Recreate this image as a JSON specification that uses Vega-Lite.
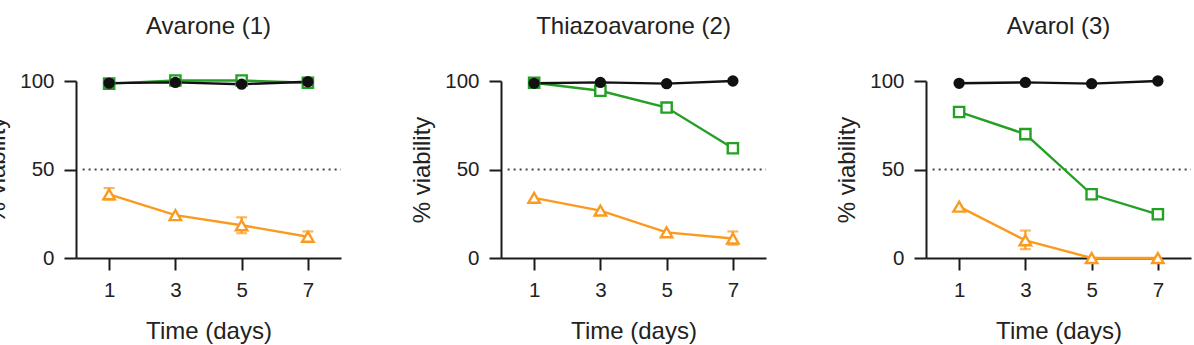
{
  "$schema": "https://vega.github.io/schema/vega-lite/v6.json",
  "background": "white",
  "padding": {"left": -15, "top": 15, "right": 0, "bottom": 0},
  "config": {
    "font": "Liberation Sans",
    "view": {"stroke": null},
    "axis": {
      "domainColor": "#1a1a1a", "domainWidth": 2,
      "tickColor": "#1a1a1a", "tickWidth": 2, "tickSize": 12,
      "labelFontSize": 20.5, "labelColor": "#222", "labelPadding": 10,
      "titleFontSize": 24, "titleFontWeight": "normal", "titleColor": "#222",
      "grid": false
    }
  },
  "data": {"values": [
    {"compound": "Avarone (1)", "series": "Series 3", "day": 1, "value": 36, "lo": 33, "hi": 39.5},
    {"compound": "Avarone (1)", "series": "Series 3", "day": 3, "value": 24.2},
    {"compound": "Avarone (1)", "series": "Series 3", "day": 5, "value": 18.5, "lo": 14, "hi": 23},
    {"compound": "Avarone (1)", "series": "Series 3", "day": 7, "value": 12, "lo": 9, "hi": 15},
    {"compound": "Avarone (1)", "series": "Series 2", "day": 1, "value": 98.5},
    {"compound": "Avarone (1)", "series": "Series 2", "day": 3, "value": 100.3},
    {"compound": "Avarone (1)", "series": "Series 2", "day": 5, "value": 100.3},
    {"compound": "Avarone (1)", "series": "Series 2", "day": 7, "value": 99},
    {"compound": "Avarone (1)", "series": "Series 1", "day": 1, "value": 98.8},
    {"compound": "Avarone (1)", "series": "Series 1", "day": 3, "value": 99.2},
    {"compound": "Avarone (1)", "series": "Series 1", "day": 5, "value": 98.2},
    {"compound": "Avarone (1)", "series": "Series 1", "day": 7, "value": 99.6},
    {"compound": "Thiazoavarone (2)", "series": "Series 3", "day": 1, "value": 34},
    {"compound": "Thiazoavarone (2)", "series": "Series 3", "day": 3, "value": 26.8},
    {"compound": "Thiazoavarone (2)", "series": "Series 3", "day": 5, "value": 14.5},
    {"compound": "Thiazoavarone (2)", "series": "Series 3", "day": 7, "value": 11, "lo": 7.5, "hi": 15},
    {"compound": "Thiazoavarone (2)", "series": "Series 2", "day": 1, "value": 99},
    {"compound": "Thiazoavarone (2)", "series": "Series 2", "day": 3, "value": 94.5},
    {"compound": "Thiazoavarone (2)", "series": "Series 2", "day": 5, "value": 85},
    {"compound": "Thiazoavarone (2)", "series": "Series 2", "day": 7, "value": 62, "lo": 59.5, "hi": 64.5},
    {"compound": "Thiazoavarone (2)", "series": "Series 1", "day": 1, "value": 98.7},
    {"compound": "Thiazoavarone (2)", "series": "Series 1", "day": 3, "value": 99.2},
    {"compound": "Thiazoavarone (2)", "series": "Series 1", "day": 5, "value": 98.5},
    {"compound": "Thiazoavarone (2)", "series": "Series 1", "day": 7, "value": 100},
    {"compound": "Avarol (3)", "series": "Series 3", "day": 1, "value": 29},
    {"compound": "Avarol (3)", "series": "Series 3", "day": 3, "value": 10, "lo": 5, "hi": 15.5},
    {"compound": "Avarol (3)", "series": "Series 3", "day": 5, "value": 0},
    {"compound": "Avarol (3)", "series": "Series 3", "day": 7, "value": 0},
    {"compound": "Avarol (3)", "series": "Series 2", "day": 1, "value": 82.5},
    {"compound": "Avarol (3)", "series": "Series 2", "day": 3, "value": 70, "lo": 67.5, "hi": 72.5},
    {"compound": "Avarol (3)", "series": "Series 2", "day": 5, "value": 36},
    {"compound": "Avarol (3)", "series": "Series 2", "day": 7, "value": 24.7, "lo": 22.5, "hi": 26.5},
    {"compound": "Avarol (3)", "series": "Series 1", "day": 1, "value": 98.7},
    {"compound": "Avarol (3)", "series": "Series 1", "day": 3, "value": 99.2},
    {"compound": "Avarol (3)", "series": "Series 1", "day": 5, "value": 98.5},
    {"compound": "Avarol (3)", "series": "Series 1", "day": 7, "value": 100}
  ]},
  "facet": {
    "column": {
      "field": "compound", "type": "nominal",
      "sort": ["Avarone (1)", "Thiazoavarone (2)", "Avarol (3)"],
      "header": {"title": null, "labelFontSize": 24, "labelColor": "#222", "labelPadding": 42, "labelFont": "Liberation Sans"}
    }
  },
  "spacing": 160,
  "bounds": "flush",
  "resolve": {"axis": {"x": "independent", "y": "independent"}},
  "spec": {
    "width": 265,
    "height": 177,
    "layer": [
      {
        "transform": [{"filter": "datum.day == 1 && datum.series == 'Series 1'"}],
        "mark": {"type": "rule", "strokeDash": [2, 4], "strokeWidth": 2, "color": "#444"},
        "encoding": {
          "y": {"datum": 50, "type": "quantitative", "scale": {"domain": [0, 100]}, "title": "% viability"},
          "x": {"datum": 0.2, "type": "quantitative", "scale": {"domain": [0, 8]}, "title": "Time (days)"},
          "x2": {"datum": 8}
        }
      },
      {
        "transform": [{"filter": "isValid(datum.lo)"}],
        "mark": {"type": "errorbar", "ticks": {"size": 11, "thickness": 2.2}, "rule": {"strokeWidth": 2.2}, "thickness": 2.2},
        "encoding": {
          "x": {"field": "day", "type": "quantitative", "scale": {"domain": [0, 8]}, "title": "Time (days)"},
          "y": {"field": "lo", "type": "quantitative", "scale": {"domain": [0, 100]}, "title": "% viability"},
          "y2": {"field": "hi"},
          "color": {"field": "series", "type": "nominal", "scale": {"domain": ["Series 1", "Series 2", "Series 3"], "range": ["#111111", "#24a024", "#fa9a1e"]}, "legend": null}
        }
      },
      {
        "mark": {"type": "line", "strokeWidth": 2.4},
        "encoding": {
          "x": {"field": "day", "type": "quantitative", "scale": {"domain": [0, 8]}, "axis": {"values": [1, 3, 5, 7], "titlePadding": 19}, "title": "Time (days)"},
          "y": {"field": "value", "type": "quantitative", "scale": {"domain": [0, 100]}, "axis": {"values": [0, 50, 100], "titlePadding": 10}, "title": "% viability"},
          "color": {"field": "series", "type": "nominal", "scale": {"domain": ["Series 1", "Series 2", "Series 3"], "range": ["#111111", "#24a024", "#fa9a1e"]}, "legend": null},
          "detail": {"field": "series"}
        }
      },
      {
        "mark": {"type": "point", "filled": true, "strokeWidth": 2.4, "opacity": 1, "clip": false},
        "encoding": {
          "x": {"field": "day", "type": "quantitative", "scale": {"domain": [0, 8]}, "title": "Time (days)"},
          "y": {"field": "value", "type": "quantitative", "scale": {"domain": [0, 100]}, "title": "% viability"},
          "stroke": {"field": "series", "type": "nominal", "scale": {"domain": ["Series 1", "Series 2", "Series 3"], "range": ["#111111", "#24a024", "#fa9a1e"]}, "legend": null},
          "fill": {"field": "series", "type": "nominal", "scale": {"domain": ["Series 1", "Series 2", "Series 3"], "range": ["#111111", "#ffffff", "#ffffff"]}, "legend": null},
          "shape": {"field": "series", "type": "nominal", "scale": {"domain": ["Series 1", "Series 2", "Series 3"], "range": ["circle", "square", "triangle-up"]}, "legend": null},
          "size": {"field": "series", "type": "nominal", "scale": {"domain": ["Series 1", "Series 2", "Series 3"], "range": [80, 130, 130]}, "legend": null}
        }
      }
    ]
  }
}
